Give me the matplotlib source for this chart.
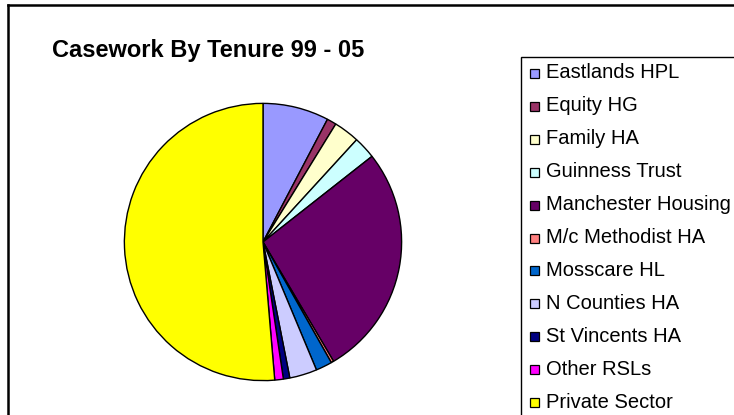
import matplotlib
matplotlib.use('Agg')
import matplotlib.pyplot as plt
from matplotlib.patches import Rectangle
from matplotlib.lines import Line2D

plt.rcParams['font.family'] = ['Liberation Sans', 'DejaVu Sans']

# 数据 (按图读取的百分比)
labels = ['Eastlands HPL', 'Equity HG', 'Family HA', 'Guinness Trust',
          'Manchester Housing', 'M/c Methodist HA', 'Mosscare HL',
          'N Counties HA', 'St Vincents HA', 'Other RSLs', 'Private Sector']
shares = [7.7, 1.1, 3.0, 2.6, 27.1, 0.3, 1.9, 3.2, 0.75, 1.0, 51.35]
colors = ['#9999FF', '#993366', '#FFFFCC', '#CCFFFF', '#660066', '#FF8080',
          '#0066CC', '#CCCCFF', '#000080', '#FF00FF', '#FFFF00']

W, H = 734, 415
fig = plt.figure(figsize=(W / 100, H / 100), dpi=100)

# 外框
fig.add_artist(Line2D([7.5 / W, 7.5 / W], [0, 1 - 5.5 / H], color='black', lw=1.8))
fig.add_artist(Line2D([7.5 / W, 1], [1 - 5.5 / H, 1 - 5.5 / H], color='black', lw=1.8))

# 饼图
cx, cy, r = 263, 242, 140
ax = fig.add_axes([(cx - r) / W, (H - cy - r) / H, 2 * r / W, 2 * r / H])
wedges, _ = ax.pie(shares, colors=colors, startangle=90, counterclock=False,
                   wedgeprops=dict(edgecolor='black', linewidth=1.0))
ax.set_xlim(-1.01, 1.01)
ax.set_ylim(-1.01, 1.01)
ax.set_aspect('equal')
ax.axis('off')

fig.text(208 / W, 1 - 50 / H, 'Casework By Tenure 99 - 05', ha='center',
         va='center', fontsize=17, fontweight='bold')

# 图例框
fig.add_artist(Rectangle((520.5 / W, -0.05), 0.5, 1 - 57 / H + 0.05,
                         transform=fig.transFigure, facecolor='white',
                         edgecolor='black', lw=1.0))
y0, dy = 73, 32.9
for i, (lab, c) in enumerate(zip(labels, colors)):
    y = y0 + i * dy
    fig.add_artist(Rectangle((530 / W, 1 - (y + 5) / H), 9 / W, 9 / H,
                             transform=fig.transFigure, facecolor=c,
                             edgecolor='black', lw=0.9))
    fig.text(546 / W, 1 - y / H, lab, ha='left', va='center', fontsize=14.5)

fig.savefig('out.png', dpi=100)
